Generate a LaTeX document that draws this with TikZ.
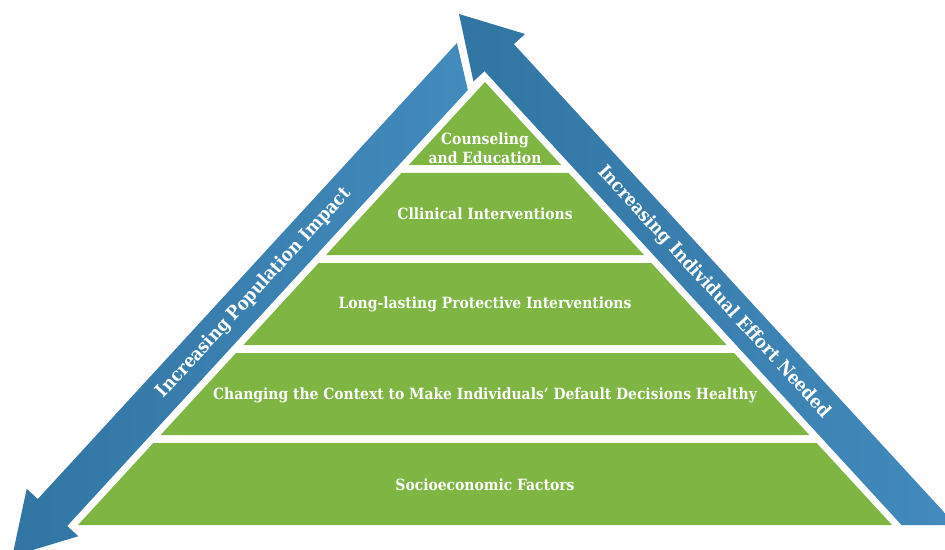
\documentclass[tikz,border=0pt]{standalone}
\usepackage{fontspec}
\setmainfont{DejaVu Serif Condensed}
\usetikzlibrary{positioning}
\definecolor{tiergreen}{RGB}{127,181,67}
\definecolor{arrowdark}{RGB}{49,117,162}
\definecolor{arrowlight}{RGB}{67,138,189}

\begin{document}
\begin{tikzpicture}[x=0.02cm, y=-0.02cm,
    tier/.style={text=white, font=\bfseries\fontsize{8.8}{10.6}\selectfont, align=center},
    side/.style={text=white, font=\bfseries\fontsize{10.5}{12}\selectfont},
    band/.style={left color=arrowdark, right color=arrowlight}]
  \useasboundingbox (0,0) rectangle (945,550);
  \clip (0,0) rectangle (945,550);

  % the two arrows
  \shade[band] (12.3,556.2) -- (26.7,488.8) -- (37.8,499) -- (456.9,43)
        -- (467.8,90) -- (67.2,526) -- (78.3,536.2) -- cycle;
  \shade[band] (459,14) -- (525,34) -- (513.9,44.2) -- (955.8,525)
        -- (901.5,525) -- (484.5,71.2) -- (473.4,81.4) -- cycle;

  % pyramid tiers, apex at (485,82), sides of slope 407/443
  \foreach \t/\b in {82/165,173/255,263/345,353/435,443/525}{
    \pgfmathsetmacro\dt{(\t-82)*0.91874}
    \pgfmathsetmacro\db{(\b-82)*0.91874}
    \fill[tiergreen] (485-\dt,\t) -- (485+\dt,\t) -- (485+\db,\b) -- (485-\db,\b) -- cycle;
  }

  \node[tier] (counsel) at (485,148) {Counseling\\and Education};
  \node[tier] (clinical) at (485,214) {Cllinical Interventions};
  \node[tier] (protective) at (485,304) {Long-lasting Protective Interventions};
  \node[tier] (context) at (485,395) {Changing the Context to Make Individuals’ Default Decisions Healthy};
  \node[tier] (socio) at (485,485) {Socioeconomic Factors};

  \node[side, rotate=47.4] (popimpact) at (254,293) {Increasing Population Impact};
  \node[side, rotate=-47.4] (effort) at (714,292) {Increasing Individual Effort Needed};
\end{tikzpicture}
\end{document}
